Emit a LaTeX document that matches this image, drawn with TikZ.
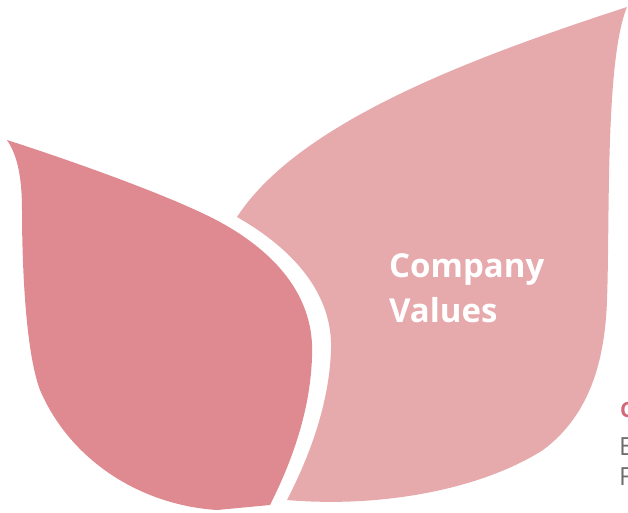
\documentclass[tikz,border=0pt]{standalone}
\usepackage{fontspec}
\setmainfont{Open Sans}
\usetikzlibrary{positioning}
\definecolor{leafdark}{HTML}{DE8A90}
\definecolor{leaflight}{HTML}{E6A9AC}
\definecolor{headred}{HTML}{D4667A}
\definecolor{bodygray}{HTML}{6E6E6E}
\tikzset{
	leaf/.style={fill=#1,draw=none},
	title/.style={text=white,font=\bfseries\fontsize{33}{45}\selectfont,align=left,inner sep=0pt},
	side/.style={anchor=base west,inner sep=0pt,text=bodygray,font=\fontsize{25}{30}\selectfont},
}

\begin{document}
\begin{tikzpicture}[x=1pt,y=-1pt]
\useasboundingbox (0,0) rectangle (628,512);

\path[leaf=leaflight] (627,7) .. controls (480,55) and (300,120) .. (237,217)
	.. controls (295,250) and (333,295) .. (331,350)
	.. controls (329,410) and (305,465) .. (287,500)
	.. controls (380,508) and (480,490) .. (543,450)
	.. controls (590,415) and (605,360) .. (607,300)
	.. controls (610,220) and (605,60) .. (627,7) -- cycle;

\path[leaf=leafdark] (7,140) .. controls (60,157) and (170,195) .. (220,222)
	.. controls (280,255) and (315,300) .. (312,357)
	.. controls (310,420) and (285,475) .. (270,505)
	-- (217,510)
	.. controls (140,505) and (70,460) .. (40,390)
	.. controls (25,350) and (22,260) .. (22,210)
	.. controls (22,170) and (15,152) .. (7,140) -- cycle;

\node[title,anchor=base west] (values) at (389,322) {Company\\Values};

\node[side,text=headred,font=\bfseries\fontsize{21}{25}\selectfont] (head) at (620,417) {C};
\node[side] (line1) at (619,455) {E};
\node[side] (line2) at (619,485) {F};

\end{tikzpicture}
\end{document}
